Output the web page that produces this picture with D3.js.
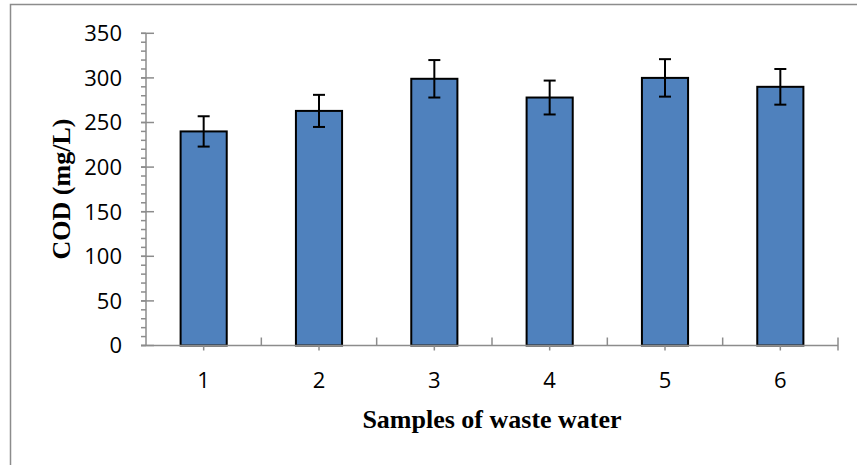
<!DOCTYPE html>
<html>
<head>
<meta charset="utf-8">
<script src="https://cdn.jsdelivr.net/npm/d3@7/dist/d3.min.js"></script>
<style>
  body { margin: 0; background: #fff; }
  svg { display: block; }
</style>
</head>
<body>
<div class="svgContainer"></div>
<script>
// Data
var SAMPLES = ["1", "2", "3", "4", "5", "6"];
var COD = [240, 263, 299, 278, 300, 290];
var COD_ERR = [17, 18, 21, 19, 21, 20];
var Y_TICKS = [0, 50, 100, 150, 200, 250, 300, 350];

var W = 857, H = 465;

var svg = d3.select(".svgContainer").append("svg")
    .attr("width", W)
    .attr("height", H);

// outer chart border (runs off right / bottom)
svg.append("rect")
    .attr("x", 10.5).attr("y", 4.5)
    .attr("width", W + 20).attr("height", H + 20)
    .attr("fill", "none")
    .attr("stroke", "#8c8c8c")
    .attr("stroke-width", 1.5);

var x = d3.scaleBand()
    .domain(SAMPLES)
    .range([146, 838])
    .paddingInner(0.6)
    .paddingOuter(0.3);

var y = d3.scaleLinear()
    .domain([0, 350])
    .range([345.5, 33.3]);

var axisColor = "#8c8c8c";

// y axis: minor ticks every 10
var gy = svg.append("g").attr("transform", "translate(146,0)");
gy.append("line")
    .attr("y1", y(0)).attr("y2", y(350))
    .attr("stroke", axisColor).attr("stroke-width", 1.5);
gy.selectAll("line.minor")
    .data(d3.range(0, 351, 10))
    .enter().append("line")
    .attr("class", "minor")
    .attr("x1", -5).attr("x2", 0)
    .attr("y1", function(d) { return y(d); })
    .attr("y2", function(d) { return y(d); })
    .attr("stroke", axisColor).attr("stroke-width", 1.5);
gy.selectAll("line.major")
    .data(Y_TICKS)
    .enter().append("line")
    .attr("class", "major")
    .attr("x1", -5).attr("x2", 8)
    .attr("y1", function(d) { return y(d); })
    .attr("y2", function(d) { return y(d); })
    .attr("stroke", axisColor).attr("stroke-width", 1.5);
gy.selectAll("text")
    .data(Y_TICKS)
    .enter().append("text")
    .attr("x", -24)
    .attr("y", function(d) { return y(d); })
    .attr("dy", "0.36em")
    .attr("text-anchor", "end")
    .attr("font-family", "'Open Sans', sans-serif")
    .attr("font-size", 22)
    .attr("fill", "#000")
    .text(function(d) { return d; });

// bars
svg.selectAll("rect.bar")
    .data(COD)
    .enter().append("rect")
    .attr("class", "bar")
    .attr("x", function(d, i) { return x(SAMPLES[i]); })
    .attr("y", function(d) { return y(d); })
    .attr("width", x.bandwidth())
    .attr("height", function(d) { return y(0) - y(d); })
    .attr("fill", "#4f81bd")
    .attr("stroke", "#000")
    .attr("stroke-width", 2);

// x axis
var gx = svg.append("g");
gx.append("line")
    .attr("x1", 141).attr("x2", 838)
    .attr("y1", y(0)).attr("y2", y(0))
    .attr("stroke", axisColor).attr("stroke-width", 1.5);
// boundary ticks (between categories, pointing up)
gx.selectAll("line.bound")
    .data(d3.range(1, SAMPLES.length + 1))
    .enter().append("line")
    .attr("class", "bound")
    .attr("x1", function(i) { return 146 + i * x.step(); })
    .attr("x2", function(i) { return 146 + i * x.step(); })
    .attr("y1", y(0) - 8)
    .attr("y2", function(i) { return i === SAMPLES.length ? y(0) + 5 : y(0); })
    .attr("stroke", axisColor).attr("stroke-width", 1.5);
// centre ticks (pointing down)
gx.selectAll("line.center")
    .data(SAMPLES)
    .enter().append("line")
    .attr("class", "center")
    .attr("x1", function(d) { return x(d) + x.bandwidth() / 2; })
    .attr("x2", function(d) { return x(d) + x.bandwidth() / 2; })
    .attr("y1", y(0)).attr("y2", y(0) + 5)
    .attr("stroke", axisColor).attr("stroke-width", 1.5);
gx.selectAll("text")
    .data(SAMPLES)
    .enter().append("text")
    .attr("x", function(d) { return x(d) + x.bandwidth() / 2; })
    .attr("y", 380)
    .attr("dy", "0.36em")
    .attr("text-anchor", "middle")
    .attr("font-family", "'Open Sans', sans-serif")
    .attr("font-size", 22)
    .attr("fill", "#000")
    .text(function(d) { return d; });

// error bars
var err = svg.selectAll("g.err")
    .data(COD)
    .enter().append("g")
    .attr("class", "err")
    .attr("transform", function(d, i) { return "translate(" + (x(SAMPLES[i]) + x.bandwidth() / 2) + ",0)"; });
err.append("line")
    .attr("y1", function(d, i) { return y(d + COD_ERR[i]); })
    .attr("y2", function(d, i) { return y(d - COD_ERR[i]); })
    .attr("stroke", "#000").attr("stroke-width", 2);
err.append("line")
    .attr("x1", -6).attr("x2", 6)
    .attr("y1", function(d, i) { return y(d + COD_ERR[i]); })
    .attr("y2", function(d, i) { return y(d + COD_ERR[i]); })
    .attr("stroke", "#000").attr("stroke-width", 2);
err.append("line")
    .attr("x1", -6).attr("x2", 6)
    .attr("y1", function(d, i) { return y(d - COD_ERR[i]); })
    .attr("y2", function(d, i) { return y(d - COD_ERR[i]); })
    .attr("stroke", "#000").attr("stroke-width", 2);

// axis titles
svg.append("text")
    .attr("x", 492).attr("y", 428)
    .attr("text-anchor", "middle")
    .attr("font-family", "'Liberation Serif', 'Times New Roman', serif")
    .attr("font-weight", "bold")
    .attr("font-size", 26)
    .attr("fill", "#000")
    .text("Samples of waste water");

svg.append("text")
    .attr("transform", "translate(70,189) rotate(-90)")
    .attr("text-anchor", "middle")
    .attr("font-family", "'Liberation Serif', 'Times New Roman', serif")
    .attr("font-weight", "bold")
    .attr("font-size", 26)
    .attr("fill", "#000")
    .text("COD (mg/L)");
</script>
</body>
</html>
